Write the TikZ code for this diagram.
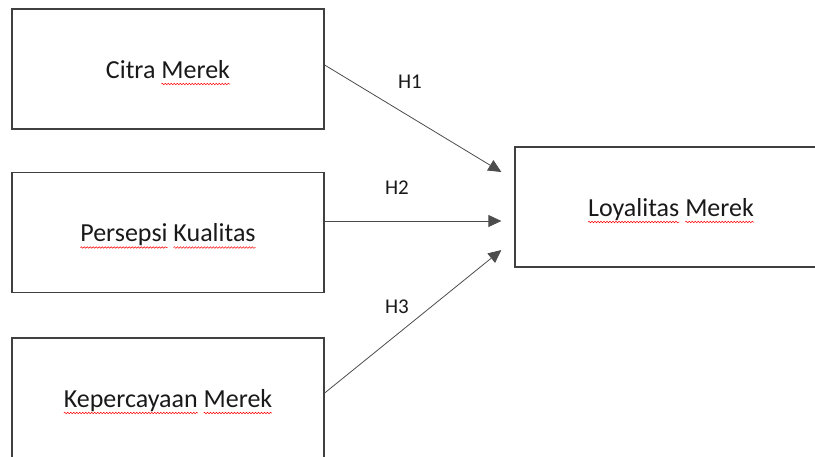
\documentclass[tikz,border=0pt]{standalone}
\usepackage{fontspec}
\setmainfont{Carlito}
\usepackage{xcolor}
\usepackage{tikz}
\usetikzlibrary{arrows.meta,decorations.pathmorphing}

% red spelling squiggle under a word
\newcommand{\wavy}[1]{\tikz[baseline=(w.base)]{\node[draw=none,fill=none,inner sep=0pt,outer sep=0pt,minimum width=0pt,minimum height=0pt] (w) {#1}; \draw[overlay,red,line width=0.5pt,decorate,decoration={snake,amplitude=0.8pt,segment length=3pt}] ([yshift=-6pt]w.base west) -- ([yshift=-6pt]w.base east);}}

\begin{document}
\begin{tikzpicture}[x=1pt,y=-1pt,>={Triangle[length=13pt,width=12pt]},
  box/.style={draw=black!75,line width=1.3pt,minimum width=312pt,minimum height=120pt,inner sep=0pt,text depth=0pt,font=\fontsize{26}{31}\selectfont,text=black!90},
  link/.style={->,draw=black!70,line width=0.8pt},
  hyp/.style={font=\fontsize{21}{25}\selectfont,text=black!90}]

\useasboundingbox (0,0) rectangle (815,456);
\clip (0,0) rectangle (815,456);

% Draw variables
\node[box] (cm) at (168,69) {Citra \wavy{Merek}};
\node[box] (pk) at (168,232.5) {\wavy{Persepsi} \wavy{Kualitas}};
\node[box] (km) at (168,398) {\wavy{Kepercayaan} \wavy{Merek}};
\node[box] (lm) at (671,207) {\wavy{Loyalitas} \wavy{Merek}};

% Draw hypotheses
\draw[link] ([yshift=4pt]cm.east) -- ([xshift=-13pt,yshift=35pt]lm.west);
\draw[link] ([yshift=11.5pt]pk.east) -- ([xshift=-13pt,yshift=-14pt]lm.west);
\draw[link] ([yshift=5pt]km.east) -- ([xshift=-13pt,yshift=-43pt]lm.west);

\node[hyp] (h1) at (410,82) {H1};
\node[hyp] (h2) at (397,188) {H2};
\node[hyp] (h3) at (397,307) {H3};

\end{tikzpicture}
\end{document}
